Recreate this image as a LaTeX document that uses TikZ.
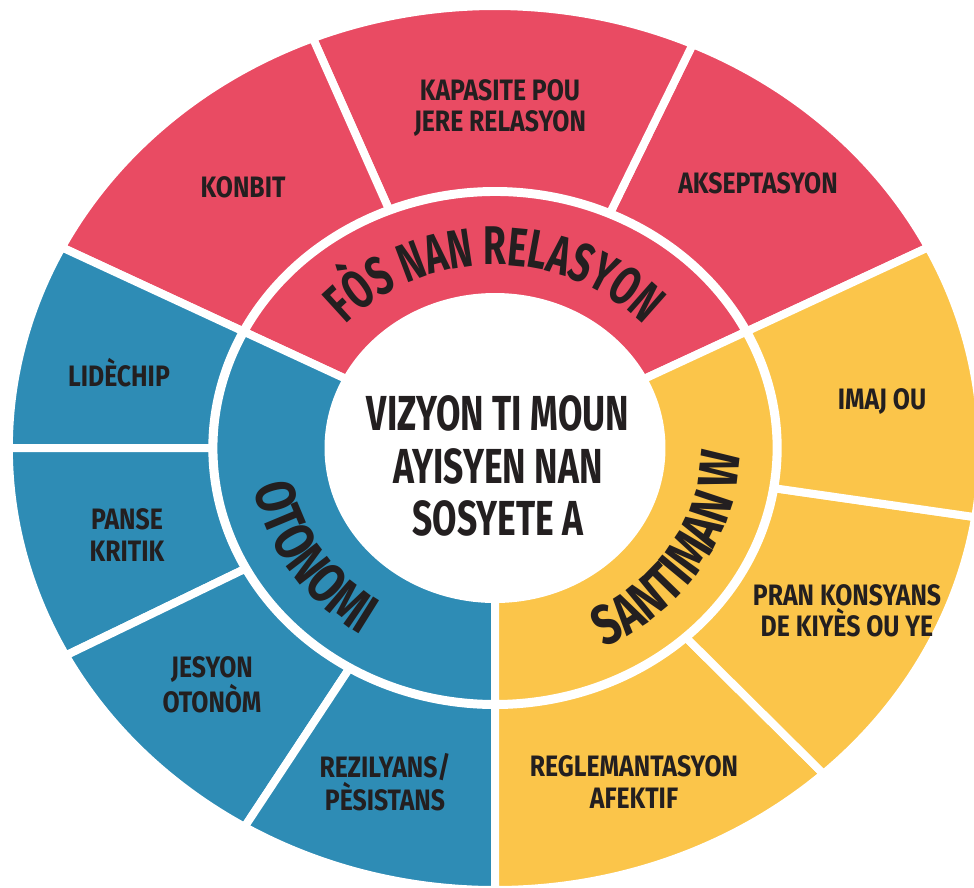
\documentclass[tikz,border=0pt]{standalone}
\usepackage{fontspec}
\usepackage{tikz}
\usetikzlibrary{decorations.text}
\newfontfamily\dinfont[FakeStretch=0.72]{Fira Sans}
\newfontfamily\arcfont[FakeStretch=0.68]{Fira Sans}
\newfontfamily\arcwidefont[FakeStretch=0.77]{Fira Sans}
\newfontfamily\lblfont[FakeStretch=0.84]{Fira Sans}
\definecolor{relred}{HTML}{E94B63}
\definecolor{otoblue}{HTML}{2E8CB5}
\definecolor{santyellow}{HTML}{FBC54A}
\definecolor{ink}{HTML}{231F20}
\newcommand{\ringfont}{\arcfont\bfseries\fontsize{31}{31}\selectfont\color{ink}}
\newcommand{\ringwidefont}{\arcwidefont\bfseries\fontsize{32}{32}\selectfont\color{ink}}

\begin{document}
\begin{tikzpicture}[x=0.02cm, y=-0.02cm]
    \tikzstyle{segment} = [draw=white, line width=0.16cm, line join=round]
    \tikzstyle{segtext} = [font=\lblfont\bfseries\fontsize{16.8}{17.8}\selectfont, text=ink, align=center, inner sep=0pt]
    \tikzstyle{hubtext} = [font=\dinfont\bfseries\fontsize{28}{30}\selectfont, text=ink, align=center, inner sep=0pt]

    \useasboundingbox (0,0) rectangle (974,887);
    \clip (0,0) rectangle (974,887);

    \begin{scope}[shift={(495,448)}, x={(0.022cm,0)}, y={(0,0.02cm)}]
        % outer ring
        \foreach \a/\b/\c in {27/66/relred, 66/112/relred, 112/153/relred,
                              153/180/otoblue, 180/208/otoblue, 208/239/otoblue, 239/270/otoblue,
                              -90/-47.5/santyellow, -47.5/-9/santyellow, -9/27/santyellow}
            \filldraw[segment, fill=\c] (\a:257) arc[start angle=\a, end angle=\b, radius=257]
                -- (\b:442) arc[start angle=\b, end angle=\a, radius=442] -- cycle;

        % inner ring
        \foreach \a/\b/\c in {27/153/relred, 153/270/otoblue, -90/27/santyellow}
            \filldraw[segment, fill=\c] (\a:140) arc[start angle=\a, end angle=\b, radius=140]
                -- (\b:256) arc[start angle=\b, end angle=\a, radius=256] -- cycle;

        % hub
        \fill[white] (0,0) circle[radius=155];

        % ring titles
        \path[decorate, decoration={text along path, text align=center,
            text={|\ringfont|FÒS NAN RELASYON}}]
            (152:183) arc[start angle=152, end angle=28, radius=183];
        \path[decorate, decoration={text along path, text align=center,
            text={|\ringwidefont|OTONOMI}}]
            (174:223) arc[start angle=174, end angle=252, radius=223];
        \path[decorate, decoration={text along path, text align=center,
            text={|\ringwidefont|SANTIMAN W}}]
            (-70:223) arc[start angle=-70, end angle=6, radius=223];
    \end{scope}

    % center text
    \node[hubtext] (hub) at (498,466) {VIZYON TI MOUN\\AYISYEN NAN\\SOSYETE A};

    % relasyon
    \node[segtext] (konbit) at (243,187) {KONBIT};
    \node[segtext] (kapasite) at (500,108) {KAPASITE POU\\JERE RELASYON};
    \node[segtext] (akseptasyon) at (758,183) {AKSEPTASYON};

    % otonomi
    \node[segtext] (lidechip) at (119,373) {LIDÈCHIP};
    \node[segtext] (panse) at (127,535) {PANSE\\KRITIK};
    \node[segtext] (jesyon) at (212,685) {JESYON\\OTONÒM};
    \node[segtext] (rezilyans) at (385,782) {REZILYANS/\\PÈSISTANS};

    % santiman
    \node[segtext] (imaj) at (882,402) {IMAJ OU};
    \node[segtext] (konsyans) at (847,611) {PRAN KONSYANS\\DE KIYÈS OU YE};
    \node[segtext] (reglemantasyon) at (634,782) {REGLEMANTASYON\\AFEKTIF};
\end{tikzpicture}
\end{document}
